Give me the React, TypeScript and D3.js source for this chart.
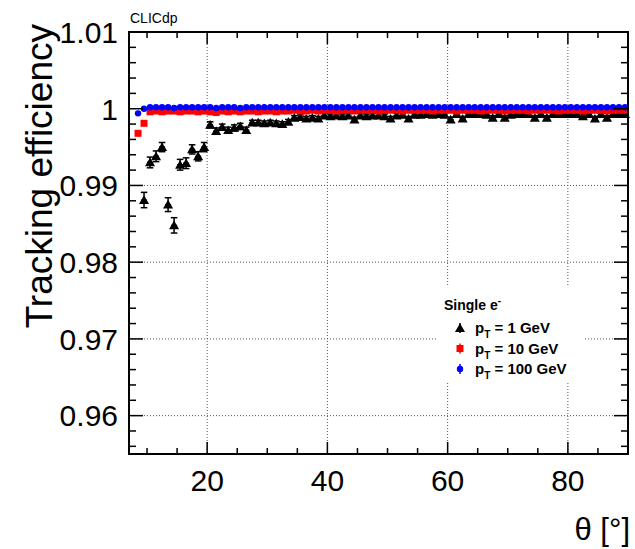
import React from 'react';
import * as d3 from 'd3';

// Bin centres (theta in degrees)
const thetaBins = [
  8.5, 9.5, 10.5, 11.5, 12.5, 13.5, 14.5, 15.5, 16.5, 17.5, 18.5, 19.5,
  20.5, 21.5, 22.5, 23.5, 24.5, 25.5, 26.5, 27.5, 28.5, 29.5,
  30.5, 31.5, 32.5, 33.5, 34.5, 35.5, 36.5, 37.5, 38.5, 39.5,
  40.5, 41.5, 42.5, 43.5, 44.5, 45.5, 46.5, 47.5, 48.5, 49.5,
  50.5, 51.5, 52.5, 53.5, 54.5, 55.5, 56.5, 57.5, 58.5, 59.5,
  60.5, 61.5, 62.5, 63.5, 64.5, 65.5, 66.5, 67.5, 68.5, 69.5,
  70.5, 71.5, 72.5, 73.5, 74.5, 75.5, 76.5, 77.5, 78.5, 79.5,
  80.5, 81.5, 82.5, 83.5, 84.5, 85.5, 86.5, 87.5, 88.5, 89.5,
];

// pT = 1 GeV (black)
const effPt1 = [
  null, 0.9881, 0.9930, 0.9938, 0.9950, 0.9875, 0.9848, 0.9927, 0.9929, 0.9947, 0.9938, 0.9950,
  0.9979, 0.9971, 0.9976, 0.9972, 0.9975, 0.9977, 0.9972, 0.9982, 0.9982, 0.9981,
  0.9982, 0.9981, 0.9980, 0.9983, 0.9988, 0.9989, 0.9987, 0.9988, 0.9987, 0.9991,
  0.9990, 0.9991, 0.9990, 0.9991, 0.9986, 0.9991, 0.9990, 0.9991, 0.9991, 0.9990,
  0.9987, 0.9991, 0.9992, 0.9987, 0.9992, 0.9992, 0.9993, 0.9992, 0.9993, 0.9992,
  0.9986, 0.9993, 0.9987, 0.9993, 0.9993, 0.9993, 0.9992, 0.9988, 0.9993, 0.9988,
  0.9992, 0.9993, 0.9993, 0.9993, 0.9988, 0.9993, 0.9988, 0.9993, 0.9993, 0.9993,
  0.9993, 0.9993, 0.9990, 0.9993, 0.9987, 0.9993, 0.9988, 0.9993, 0.9993, 0.9993,
];
const errPt1 = [
  0, 0.0010, 0.0007, 0.0007, 0.0006, 0.0009, 0.0010, 0.0007, 0.0007, 0.0006, 0.0006, 0.0006,
  0.0004, 0.0004, 0.0004, 0.0004, 0.0004, 0.0004, 0.0004, 0.0003, 0.0003, 0.0003,
  0.0003, 0.0003, 0.0003, 0.0003, 0.0003, 0.0003, 0.0003, 0.0003, 0.0003, 0.0003,
  0.0003, 0.0003, 0.0003, 0.0003, 0.0003, 0.0003, 0.0003, 0.0003, 0.0003, 0.0003,
  0.0003, 0.0003, 0.0003, 0.0003, 0.0003, 0.0003, 0.0003, 0.0003, 0.0003, 0.0003,
  0.0003, 0.0003, 0.0003, 0.0003, 0.0003, 0.0003, 0.0003, 0.0003, 0.0003, 0.0003,
  0.0003, 0.0003, 0.0003, 0.0003, 0.0003, 0.0003, 0.0003, 0.0003, 0.0003, 0.0003,
  0.0003, 0.0003, 0.0003, 0.0003, 0.0003, 0.0003, 0.0003, 0.0003, 0.0003, 0.0003,
];

// pT = 10 GeV (red)
const effPt10 = [
  0.9968, 0.9981, 0.9996, 0.9997, 0.9996, 0.9997, 0.9997, 0.9996, 0.9997, 0.9997, 0.9996, 0.9997,
  0.9996, 0.9995, 0.9997, 0.9996, 0.9997, 0.9996, 0.9997, 0.9997, 0.9996, 0.9997,
  0.9997, 0.9996, 0.9997, 0.9997, 0.9998, 0.9997, 0.9997, 0.9998, 0.9997, 0.9998,
  0.9998, 0.9997, 0.9998, 0.9998, 0.9997, 0.9998, 0.9998, 0.9998, 0.9997, 0.9998,
  0.9998, 0.9998, 0.9997, 0.9998, 0.9998, 0.9998, 0.9998, 0.9997, 0.9998, 0.9998,
  0.9998, 0.9997, 0.9998, 0.9998, 0.9998, 0.9997, 0.9998, 0.9998, 0.9998, 0.9997,
  0.9998, 0.9998, 0.9998, 0.9997, 0.9998, 0.9998, 0.9998, 0.9998, 0.9997, 0.9998,
  0.9998, 0.9998, 0.9997, 0.9998, 0.9998, 0.9998, 0.9997, 0.9998, 0.9998, 0.9998,
];
const errPt10 = [
  0.0004, 0.0003, 0.0003, 0.0003, 0.0003, 0.0003, 0.0003, 0.0003, 0.0003, 0.0003, 0.0003, 0.0003,
  0.0003, 0.0003, 0.0003, 0.0003, 0.0003, 0.0003, 0.0003, 0.0003, 0.0003, 0.0003,
  0.0002, 0.0002, 0.0002, 0.0002, 0.0002, 0.0002, 0.0002, 0.0002, 0.0002, 0.0002,
  0.0002, 0.0002, 0.0002, 0.0002, 0.0002, 0.0002, 0.0002, 0.0002, 0.0002, 0.0002,
  0.0002, 0.0002, 0.0002, 0.0002, 0.0002, 0.0002, 0.0002, 0.0002, 0.0002, 0.0002,
  0.0002, 0.0002, 0.0002, 0.0002, 0.0002, 0.0002, 0.0002, 0.0002, 0.0002, 0.0002,
  0.0002, 0.0002, 0.0002, 0.0002, 0.0002, 0.0002, 0.0002, 0.0002, 0.0002, 0.0002,
  0.0002, 0.0002, 0.0002, 0.0002, 0.0002, 0.0002, 0.0002, 0.0002, 0.0002, 0.0002,
];

// pT = 100 GeV (blue)
const effPt100 = [
  0.9994, 1.0000, 1.0002, 1.0002, 1.0002, 1.0002, 1.0001, 1.0002, 1.0002, 1.0002, 1.0002, 1.0002,
  1.0002, 1.0001, 1.0002, 1.0002, 1.0002, 1.0001, 1.0002, 1.0002, 1.0002, 1.0002,
  1.0002, 1.0002, 1.0002, 1.0002, 1.0002, 1.0002, 1.0002, 1.0002, 1.0002, 1.0002,
  1.0002, 1.0002, 1.0002, 1.0002, 1.0002, 1.0002, 1.0002, 1.0002, 1.0002, 1.0002,
  1.0002, 1.0002, 1.0002, 1.0002, 1.0002, 1.0002, 1.0002, 1.0002, 1.0002, 1.0002,
  1.0002, 1.0002, 1.0002, 1.0002, 1.0002, 1.0002, 1.0002, 1.0002, 1.0002, 1.0002,
  1.0002, 1.0002, 1.0002, 1.0002, 1.0002, 1.0002, 1.0002, 1.0002, 1.0002, 1.0002,
  1.0002, 1.0002, 1.0002, 1.0002, 1.0002, 1.0002, 1.0002, 1.0002, 1.0002, 1.0002,
];

const xMajorTicks = [20, 40, 60, 80];
const xMinorTicks = [10, 15, 25, 30, 35, 45, 50, 55, 65, 70, 75, 85];
const yMajorTicks = [0.96, 0.97, 0.98, 0.99, 1.0, 1.01];
const yTickLabels = ['0.96', '0.97', '0.98', '0.99', '1', '1.01'];
const yMinorTicks = [
  0.956, 0.958, 0.962, 0.964, 0.966, 0.968, 0.972, 0.974, 0.976, 0.978,
  0.982, 0.984, 0.986, 0.988, 0.992, 0.994, 0.996, 0.998, 1.002, 1.004, 1.006, 1.008,
];
const legendLabels = ['1 GeV', '10 GeV', '100 GeV'];

const FONT = '"Liberation Sans", Arial, Helvetica, sans-serif';

export default function App() {
  const W = 635, H = 549;
  const L = 129, R = 628, T = 32, B = 454;
  const x = d3.scaleLinear().domain([7, 90]).range([L, R]);
  const y = d3.scaleLinear().domain([0.955, 1.01]).range([B, T]);
  const halfBin = 0.5;

  const tri = d3.symbol(d3.symbolTriangle, 44)();
  const sq = d3.symbol(d3.symbolSquare, 49)();

  const series = [
    { eff: effPt1, err: errPt1, color: '#000000', kind: 'tri', caps: true },
    { eff: effPt10, err: errPt10, color: '#ff0000', kind: 'sq', caps: false },
    { eff: effPt100, err: null, color: '#0000ff', kind: 'circ', caps: false },
  ];

  const marker = (kind: string, color: string, cx: number, cy: number, key?: any) => {
    if (kind === 'tri') return <path key={key} d={tri as string} transform={`translate(${cx},${cy + 1})`} fill={color} />;
    if (kind === 'sq') return <path key={key} d={sq as string} transform={`translate(${cx},${cy})`} fill={color} />;
    return <circle key={key} cx={cx} cy={cy} r={3.2} fill={color} />;
  };

  return (
    <svg width={W} height={H} style={{ position: 'absolute', left: 0, top: 0, background: '#fff' }} fontFamily={FONT}>
      <rect x={0} y={0} width={W} height={H} fill="#fff" />
      {/* grid */}
      <g stroke="#555" strokeWidth={1} strokeDasharray="1,2">
        {xMajorTicks.map((t) => (
          <line key={'gx' + t} x1={x(t)} x2={x(t)} y1={T} y2={B} />
        ))}
        {yMajorTicks.filter((t) => t < 1.01).map((t) => (
          <line key={'gy' + t} x1={L} x2={R} y1={y(t)} y2={y(t)} />
        ))}
      </g>

      {/* data */}
      {series.map((s, si) => (
        <g key={'s' + si}>
          {thetaBins.map((th, i) => {
            const v = s.eff[i];
            if (v == null) return null;
            const cx = x(th), cy = y(v);
            const e = s.err ? s.err[i] : 0;
            return (
              <g key={i}>
                <line x1={x(th - halfBin)} x2={x(th + halfBin)} y1={cy} y2={cy} stroke={s.color} strokeWidth={1.3} />
                {e > 0 && <line x1={cx} x2={cx} y1={y(v - e)} y2={y(v + e)} stroke={s.color} strokeWidth={1.5} />}
                {s.caps && e > 0 && (
                  <>
                    <line x1={cx - 3.3} x2={cx + 3.3} y1={y(v - e)} y2={y(v - e)} stroke={s.color} strokeWidth={1.5} />
                    <line x1={cx - 3.3} x2={cx + 3.3} y1={y(v + e)} y2={y(v + e)} stroke={s.color} strokeWidth={1.5} />
                  </>
                )}
                {marker(s.kind, s.color, cx, cy)}
              </g>
            );
          })}
        </g>
      ))}

      {/* legend */}
      <rect x={438} y={287} width={147} height={95} fill="#fff" />
      <text x={444} y={310} fontSize={14} fontWeight="bold" fill="#000">
        Single e<tspan dy={-6} fontSize={10}>-</tspan>
      </text>
      {legendLabels.map((lab, i) => {
        const cy = 328 + i * 20.5;
        const s = series[i];
        return (
          <g key={'leg' + i}>
            <line x1={460} x2={460} y1={cy - 5} y2={cy + 5} stroke={s.color} strokeWidth={1.5} />
            {marker(s.kind, s.color, 460, cy)}
            <text x={475} y={cy + 5} fontSize={15} fontWeight="bold" fill="#000">
              p<tspan dy={5} fontSize={10}>T</tspan>
              <tspan dy={-5}> = {lab}</tspan>
            </text>
          </g>
        );
      })}

      {/* frame and ticks */}
      <g stroke="#000" strokeWidth={1.5}>
        {xMajorTicks.map((t) => (
          <g key={'xt' + t}>
            <line x1={x(t)} x2={x(t)} y1={B} y2={B - 12} />
            <line x1={x(t)} x2={x(t)} y1={T} y2={T + 12} />
          </g>
        ))}
        {xMinorTicks.map((t) => (
          <g key={'xm' + t}>
            <line x1={x(t)} x2={x(t)} y1={B} y2={B - 6} />
            <line x1={x(t)} x2={x(t)} y1={T} y2={T + 6} />
          </g>
        ))}
        {yMajorTicks.map((t) => (
          <g key={'yt' + t}>
            <line x1={L} x2={L + 14} y1={y(t)} y2={y(t)} />
            <line x1={R} x2={R - 14} y1={y(t)} y2={y(t)} />
          </g>
        ))}
        {yMinorTicks.map((t) => (
          <g key={'ym' + t}>
            <line x1={L} x2={L + 7} y1={y(t)} y2={y(t)} />
            <line x1={R} x2={R - 7} y1={y(t)} y2={y(t)} />
          </g>
        ))}
        <rect x={L} y={T} width={R - L} height={B - T} fill="none" strokeWidth={2} />
      </g>

      {/* tick labels */}
      {xMajorTicks.map((t) => (
        <text key={'xl' + t} x={x(t)} y={491} textAnchor="middle" fontSize={30} fill="#000">
          {t}
        </text>
      ))}
      {yMajorTicks.map((t, i) => (
        <text key={'yl' + t} x={118} y={y(t)} dy="0.36em" textAnchor="end" fontSize={30} fill="#000">
          {yTickLabels[i]}
        </text>
      ))}

      {/* titles */}
      <text x={630} y={540} textAnchor="end" fontSize={31} fill="#000">θ [°]</text>
      <text transform="translate(52,24) rotate(-90)" textAnchor="end" fontSize={37} fill="#000">
        Tracking efficiency
      </text>
      <text x={130} y={23} fontSize={14} fill="#000">CLICdp</text>
    </svg>
  );
}
